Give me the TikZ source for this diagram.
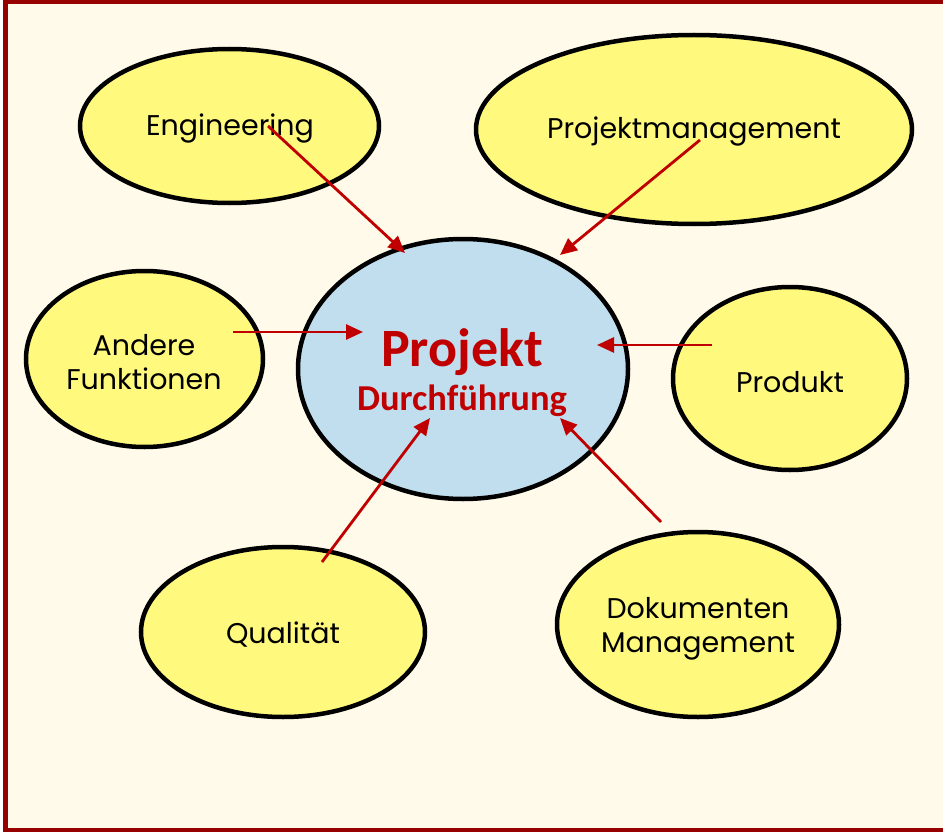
\documentclass[tikz,border=0pt]{standalone}
\usepackage{fontspec}
\setmainfont{Poppins}
\newfontfamily\calibri{Carlito}
\usetikzlibrary{shapes.geometric,arrows.meta}
\definecolor{frame}{RGB}{150,0,0}
\definecolor{cream}{RGB}{255,250,233}
\definecolor{yel}{RGB}{255,250,125}
\definecolor{blu}{RGB}{192,222,237}
\definecolor{arr}{RGB}{192,0,0}
\tikzset{
  bub/.style={ellipse, draw=black, line width=4.5pt, fill=yel, inner sep=0pt},
  core/.style={ellipse, draw=black, line width=4.5pt, fill=blu, inner sep=0pt},
  lbl/.style={font=\fontsize{28.5}{34}\selectfont, text=black, inner sep=0pt, align=center},
  link/.style={draw=arr, line width=2.8pt, -{Triangle[length=17pt,width=15pt]}},
}
\begin{document}
\begin{tikzpicture}[x=1pt,y=-1pt]
\useasboundingbox (0,0) rectangle (943,832);
\fill[white] (0,0) rectangle (943,832);
\fill[cream] (5.5,2) rectangle (960,830);
\draw[frame, line width=4.5pt] (5.5,2) rectangle (960,830);

\node[bub, minimum width=299pt, minimum height=154pt] (eng) at (229.5,126) {};
\node[bub, minimum width=436pt, minimum height=189pt] (pm) at (694,129.5) {};
\node[bub, minimum width=237pt, minimum height=176pt] (and) at (144.5,359) {};
\node[core, minimum width=330pt, minimum height=260pt] (proj) at (463,369) {};
\node[bub, minimum width=234pt, minimum height=183pt] (prod) at (790,378.5) {};
\node[bub, minimum width=284pt, minimum height=170pt] (qual) at (283,632) {};
\node[bub, minimum width=282pt, minimum height=185pt] (dok) at (698,624.5) {};

\node[lbl] (tEng) at (230,129) {Engineering};
\node[lbl] (tPm) at (694,132) {Projektmanagement};
\node[lbl] (tAnd) at (144,362) {Andere\\Funktionen};
\node[lbl] (tProd) at (790,382) {Produkt};
\node[lbl] (tQual) at (283,635) {Qualität};
\node[lbl] (tDok) at (698,629) {Dokumenten\\Management};
\node[font=\calibri\bfseries\fontsize{54}{54}\selectfont, text=arr, inner sep=0pt] (tProj) at (462,352) {Projekt};
\node[font=\calibri\bfseries\fontsize{36.5}{36}\selectfont, text=arr, inner sep=0pt] (tDurch) at (462,401) {Durchführung};

\coordinate (s1) at (268,126); \coordinate (e1) at (405,253);
\coordinate (s2) at (700,140); \coordinate (e2) at (560,255);
\coordinate (s3) at (233,332); \coordinate (e3) at (363,332);
\coordinate (s4) at (712,345); \coordinate (e4) at (597,345);
\coordinate (s5) at (322,562); \coordinate (e5) at (430,418);
\coordinate (s6) at (661,522); \coordinate (e6) at (560,418);
\draw[link] (s1) -- (e1);
\draw[link] (s2) -- (e2);
\draw[link] (s3) -- (e3);
\draw[link] (s4) -- (e4);
\draw[link] (s5) -- (e5);
\draw[link] (s6) -- (e6);
\end{tikzpicture}
\end{document}
